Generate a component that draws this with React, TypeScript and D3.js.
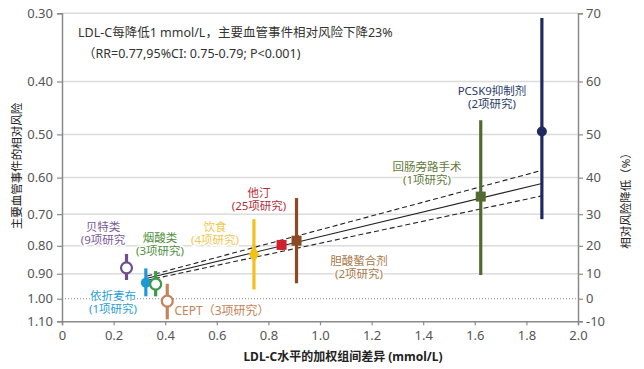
import React, { useRef, useEffect } from 'react';
import * as d3 from 'd3';

// drug classes
const names = ['贝特类', '依折麦布', '烟酸类', 'CEPT', '饮食', '他汀', '胆酸螯合剂', '回肠旁路手术', 'PCSK9抑制剂'];
const studies = ['(9项研究', '(1项研究)', '(3项研究)', '（3项研究）', '(4项研究)', '(25项研究)', '(2项研究)', '(1项研究)', '(2项研究)'];
const ldlDiff = [0.25, 0.325, 0.363, 0.408, 0.744, 0.851, 0.909, 1.623, 1.86];
const rr = [0.878, 0.935, 0.94, 1.01, 0.829, 0.797, 0.783, 0.65, 0.494];
const ciLow = [0.828, 0.88, 0.89, 0.939, 0.715, 0.78, 0.654, 0.471, 0.306];
const ciHigh = [0.924, 0.99, 0.99, 1.091, 0.962, 0.815, 0.937, 0.905, 0.715];
const colors = ['#6e4f8c', '#1d98d8', '#3c9a48', '#c4835a', '#f2c21a', '#d0202e', '#8a4b24', '#506a30', '#1f2b5e'];
const labelColors = ['#7a5a98', '#2aa0d8', '#4f8f3e', '#c4835a', '#f0c850', '#b0303a', '#a87848', '#5f7a3a', '#2a3a6a'];
const markers = ['open', 'circle', 'open', 'open', 'diamond', 'square', 'square', 'square', 'circle'];

// fitted line and 95% CI band (x, RR) read at both ends
const fitX = [0.33, 1.86];
const fitMid = [0.917, 0.615];
const fitUp = [0.909, 0.582];
const fitLow = [0.925, 0.648];

const yTicks = [0.3, 0.4, 0.5, 0.6, 0.7, 0.8, 0.9, 1.0, 1.1];
const xTicks = [0, 0.2, 0.4, 0.6, 0.8, 1.0, 1.2, 1.4, 1.6, 1.8, 2.0];

const FONT = '"Noto Sans", "Noto Sans CJK SC", sans-serif';

const App = () => {
  const svgRef = useRef(null);

  useEffect(() => {
    const width = 644;
    const height = 369;
    const svg = d3.select(svgRef.current);
    svg.selectAll('*').remove();
    svg.attr('width', width).attr('height', height);

    const x = d3.scaleLinear().domain([0, 2]).range([62, 578]);
    const y = d3.scaleLog().domain([0.3, 1.1]).range([13.3, 321.3]);

    // gridlines
    svg.selectAll('line.grid')
      .data(yTicks.filter(t => t !== 1.0 && t !== 1.1))
      .join('line')
      .attr('x1', x(0)).attr('x2', x(2))
      .attr('y1', d => y(d)).attr('y2', d => y(d))
      .attr('stroke', '#dcdcdc')
      .attr('stroke-width', 1.5);

    svg.append('line')
      .attr('x1', x(0)).attr('x2', x(2))
      .attr('y1', y(1.0)).attr('y2', y(1.0))
      .attr('stroke', '#888')
      .attr('stroke-width', 1)
      .attr('stroke-dasharray', '1,2');

    // axes
    const axisColor = '#8a8a8a';
    const left = svg.append('g')
      .attr('transform', `translate(${x(0)},0)`)
      .call(d3.axisLeft(y).tickValues(yTicks).tickFormat(d3.format('.2f')).tickSizeOuter(0).tickSize(5));
    const right = svg.append('g')
      .attr('transform', `translate(${x(2)},0)`)
      .call(d3.axisRight(y).tickValues(yTicks).tickFormat(d => `${Math.round((1 - d) * 100)}`).tickSizeOuter(0).tickSize(5));
    const bottom = svg.append('g')
      .attr('transform', `translate(0,${y(1.1)})`)
      .call(d3.axisBottom(x).tickValues(xTicks).tickFormat(d => d === 0 ? '0' : d3.format('.1f')(d)).tickSizeOuter(0).tickSize(4));

    [left, right, bottom].forEach(g => {
      g.select('.domain').attr('stroke', axisColor).attr('stroke-width', 1.5);
      g.selectAll('.tick line').attr('stroke', axisColor).attr('stroke-width', 1.2);
      g.selectAll('.tick text')
        .attr('fill', '#555')
        .style('font-family', FONT)
        .style('font-size', '13px');
    });
    left.selectAll('.tick text').attr('dx', '-1');
    bottom.selectAll('.tick text').attr('dy', '0.9em');

    // regression line + CI
    const line = d3.line().x(d => x(d[0])).y(d => y(d[1]));
    [[fitMid, null], [fitUp, '5,3'], [fitLow, '5,3']].forEach(([vals, dash]) => {
      svg.append('path')
        .attr('d', line(fitX.map((v, i) => [v, vals[i]])))
        .attr('fill', 'none')
        .attr('stroke', '#222')
        .attr('stroke-width', 1.1)
        .attr('stroke-dasharray', dash);
    });

    // confidence intervals
    svg.selectAll('line.ci')
      .data(ldlDiff)
      .join('line')
      .attr('x1', d => x(d)).attr('x2', d => x(d))
      .attr('y1', (d, i) => y(ciLow[i]))
      .attr('y2', (d, i) => y(ciHigh[i]))
      .attr('stroke', (d, i) => colors[i])
      .attr('stroke-width', 3.2);

    // point markers
    ldlDiff.forEach((v, i) => {
      const cx = x(v);
      const cy = y(rr[i]);
      const m = markers[i];
      if (m === 'open') {
        svg.append('circle').attr('cx', cx).attr('cy', cy).attr('r', 5.5)
          .attr('fill', '#fff').attr('stroke', colors[i]).attr('stroke-width', 2.2);
      } else if (m === 'circle') {
        svg.append('circle').attr('cx', cx).attr('cy', cy).attr('r', 5)
          .attr('fill', colors[i]);
      } else if (m === 'square') {
        svg.append('rect').attr('x', cx - 5).attr('y', cy - 5).attr('width', 10).attr('height', 10)
          .attr('fill', colors[i]);
      } else {
        svg.append('path')
          .attr('d', d3.symbol().type(d3.symbolDiamond).size(90)())
          .attr('transform', `translate(${cx},${cy})`)
          .attr('fill', colors[i]);
      }
    });

    // class labels (two rows each, except CEPT on one row)
    const labelPos = [
      [103, 226], [113, 295], [160, 237], [222, 310], [215, 226],
      [259, 192], [359, 260], [427, 166], [492, 90]
    ];
    names.forEach((n, i) => {
      const [lx, ly] = labelPos[i];
      if (n === 'CEPT') {
        svg.append('text')
          .attr('x', lx).attr('y', ly)
          .attr('text-anchor', 'middle').attr('dominant-baseline', 'central')
          .attr('fill', labelColors[i])
          .style('font-family', FONT).style('font-size', '12px')
          .text(`${n}${studies[i]}`);
        return;
      }
      [n, studies[i]].forEach((t, k) => {
        svg.append('text')
          .attr('x', lx).attr('y', ly + k * 13.5)
          .attr('text-anchor', 'middle').attr('dominant-baseline', 'central')
          .attr('fill', labelColors[i])
          .attr('stroke', '#fff').attr('stroke-width', 3).attr('paint-order', 'stroke')
          .style('font-family', FONT).style('font-size', '11.5px')
          .text(t);
      });
    });

    // headline
    svg.append('text')
      .attr('x', 78).attr('y', 32)
      .attr('dominant-baseline', 'central')
      .attr('fill', '#333')
      .style('font-family', FONT).style('font-size', '12.5px')
      .text('LDL-C每降低1 mmol/L，主要血管事件相对风险下降23%');
    svg.append('text')
      .attr('x', 83).attr('y', 53)
      .attr('dominant-baseline', 'central')
      .attr('fill', '#333')
      .style('font-family', FONT).style('font-size', '12.5px')
      .text('（RR=0.77,95%CI: 0.75-0.79; P<0.001)');

    // axis titles
    svg.append('text')
      .attr('transform', `translate(16,166) rotate(-90)`)
      .attr('text-anchor', 'middle').attr('dominant-baseline', 'central')
      .attr('fill', '#222')
      .style('font-family', FONT).style('font-size', '11.5px')
      .text('主要血管事件的相对风险');
    svg.append('text')
      .attr('transform', `translate(625,198) rotate(-90)`)
      .attr('text-anchor', 'middle').attr('dominant-baseline', 'central')
      .attr('fill', '#222')
      .style('font-family', FONT).style('font-size', '11.5px')
      .text('相对风险降低（%）');
    svg.append('text')
      .attr('x', 343).attr('y', 356)
      .attr('text-anchor', 'middle').attr('dominant-baseline', 'central')
      .attr('fill', '#222')
      .style('font-family', FONT).style('font-size', '12px').style('font-weight', 'bold')
      .text('LDL-C水平的加权组间差异 (mmol/L)');
  }, []);

  return (
    <div style={{ position: 'absolute', left: 0, top: 0, background: '#fff' }}>
      <svg ref={svgRef}></svg>
    </div>
  );
};

export default App;
